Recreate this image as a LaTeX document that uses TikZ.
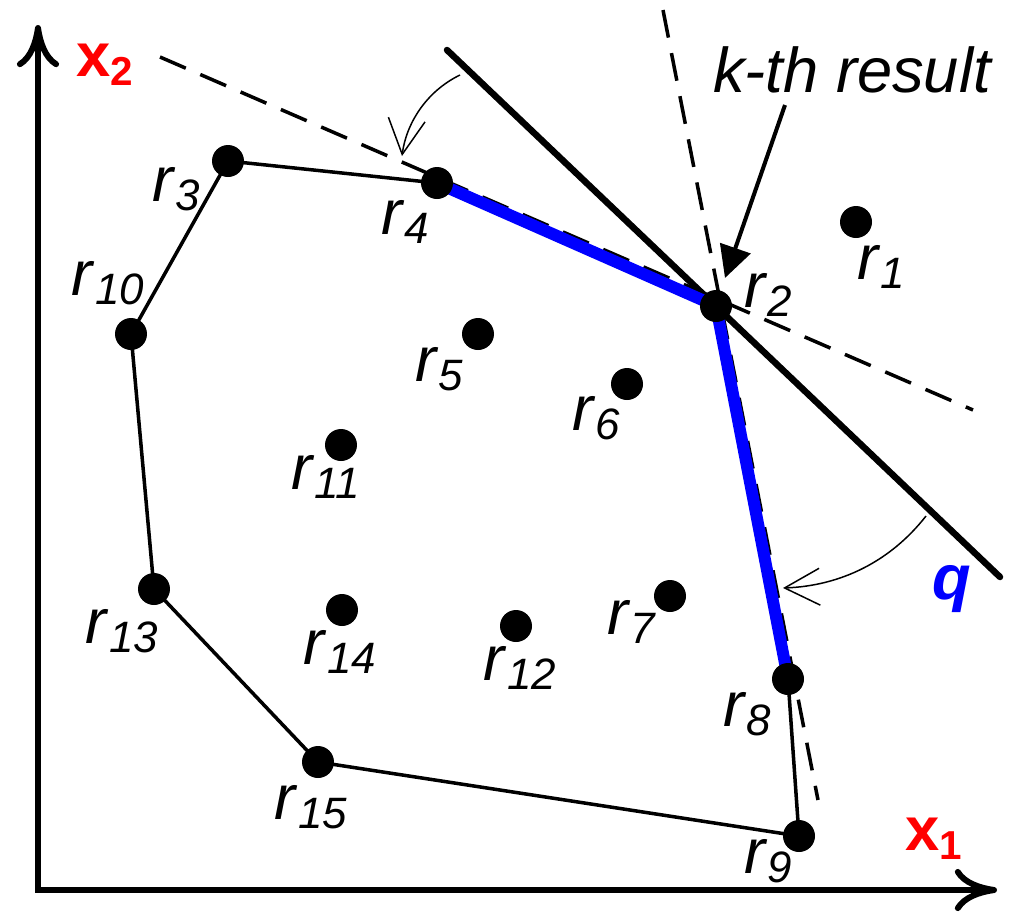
\documentclass[tikz,border=0pt]{standalone}
\usepackage{fontspec}
\setmainfont{Liberation Sans}
\usetikzlibrary{arrows.meta}
\newcommand\rlab[1]{\textit{r}\raisebox{-5pt}{\fontsize{25}{25}\selectfont\textit{#1}}}
\newcommand\xlab[1]{\textbf{x}\raisebox{-5pt}{\fontsize{23}{23}\selectfont\textbf{#1}}}
\begin{document}
\begin{tikzpicture}[x={(0.02cm,0)}, y={(0,-0.02cm)},
  every node/.style={inner sep=0pt, font=\fontsize{36}{40}\selectfont},
  dotnode/.style={circle, fill=black, minimum size=0.64cm, inner sep=0pt},
  lab/.style={anchor=center},
  axis/.style={line width=3.4pt, line join=miter,
    arrows={Computer Modern Rightarrow[length=24pt,width=24pt,line cap=round]-Computer Modern Rightarrow[length=24pt,width=24pt,line cap=round]}},
  hull/.style={line width=2pt},
  res/.style={line width=6.8pt, draw={rgb,255:red,0;green,0;blue,255}},
  dline/.style={line width=2pt, dash pattern=on 16pt off 9pt},
  qline/.style={line width=3.7pt, line cap=round},
  thinarrow/.style={line width=0.85pt, -{Straight Barb[length=20pt,width=21pt]}},
  kthArrow/.style={line width=2.3pt, -{Triangle[length=18pt,width=18pt]}}
]
\useasboundingbox (0,0) rectangle (1015,917);
% point positions
\coordinate (p1) at (856,222);
\coordinate (p2) at (716,306);
\coordinate (p3) at (228,161);
\coordinate (p4) at (437,183);
\coordinate (p5) at (478,334);
\coordinate (p6) at (627,384);
\coordinate (p7) at (670,596);
\coordinate (p8) at (788,679);
\coordinate (p9) at (799,836);
\coordinate (p10) at (131,334);
\coordinate (p11) at (341,445);
\coordinate (p12) at (516,626);
\coordinate (p13) at (154,589);
\coordinate (p14) at (342,610);
\coordinate (p15) at (318,762);
% axes
\coordinate (ytip) at (38,25);
\coordinate (orig) at (38,890);
\coordinate (xtip) at (997,890);
\draw[axis] (ytip) -- (orig) -- (xtip);
% dashed lines
\coordinate (da) at (160,57);
\coordinate (db) at (973,410);
\coordinate (dc) at (663,10);
\coordinate (dd) at (818,800);
\draw[dline] (da) -- (db);
\draw[dline] (dc) -- (dd);
% q line
\coordinate (qa) at (447,50);
\coordinate (qb) at (1000,577);
\draw[qline] (qa) -- (qb);
% hull
\draw[hull] (p4) -- (p3) -- (p10) -- (p13) -- (p15) -- (p9) -- (p8);
% result edges
\draw[res] (p8) -- (p2) -- (p4);
% dots
\foreach \i in {1,...,15} { \node[dotnode] (r\i) at (p\i) {}; }
% labels
\node[lab] (l1) at (881,267) {\rlab{1}};
\node[lab] (l2) at (768,295) {\rlab{2}};
\node[lab] (l3) at (176,189) {\rlab{3}};
\node[lab] (l4) at (405,222) {\rlab{4}};
\node[lab] (l5) at (439,369) {\rlab{5}};
\node[lab] (l6) at (596,418) {\rlab{6}};
\node[lab] (l7) at (632,622) {\rlab{7}};
\node[lab] (l8) at (747,714) {\rlab{8}};
\node[lab] (l9) at (768,861) {\rlab{9}};
\node[lab] (l10) at (108,283) {\rlab{10}};
\node[lab] (l11) at (326,477) {\rlab{11}};
\node[lab] (l12) at (520,668) {\rlab{12}};
\node[lab] (l13) at (122,631) {\rlab{13}};
\node[lab] (l14) at (340,652) {\rlab{14}};
\node[lab] (l15) at (311,807) {\rlab{15}};
% axis labels
\node[lab, text={rgb,255:red,255;green,0;blue,0}, font=\fontsize{35}{40}\selectfont] (x2) at (105,65) {\xlab{2}};
\node[lab, text={rgb,255:red,255;green,0;blue,0}, font=\fontsize{35}{40}\selectfont] (x1) at (934,839) {\xlab{1}};
\node[lab, text={rgb,255:red,0;green,0;blue,255}, font=\fontsize{36}{40}\selectfont\bfseries\itshape] (q) at (952,589) {q};
% k-th result
\node[lab, font=\fontsize{36}{40}\selectfont\itshape] (kth) at (852,70) {k-th result};
\coordinate (ka) at (785,105);
\coordinate (kb) at (725,278);
\draw[kthArrow] (ka) -- (kb);
% rotation arrows
\coordinate (aa) at (460,75);
\coordinate (ab) at (402,156);
\draw[thinarrow] (aa) .. controls (425,92) and (406,125) .. (ab);
\coordinate (ba) at (926,516);
\coordinate (bb) at (783,588);
\draw[thinarrow] (ba) .. controls (890,562) and (840,586) .. (bb);
\end{tikzpicture}
\end{document}
